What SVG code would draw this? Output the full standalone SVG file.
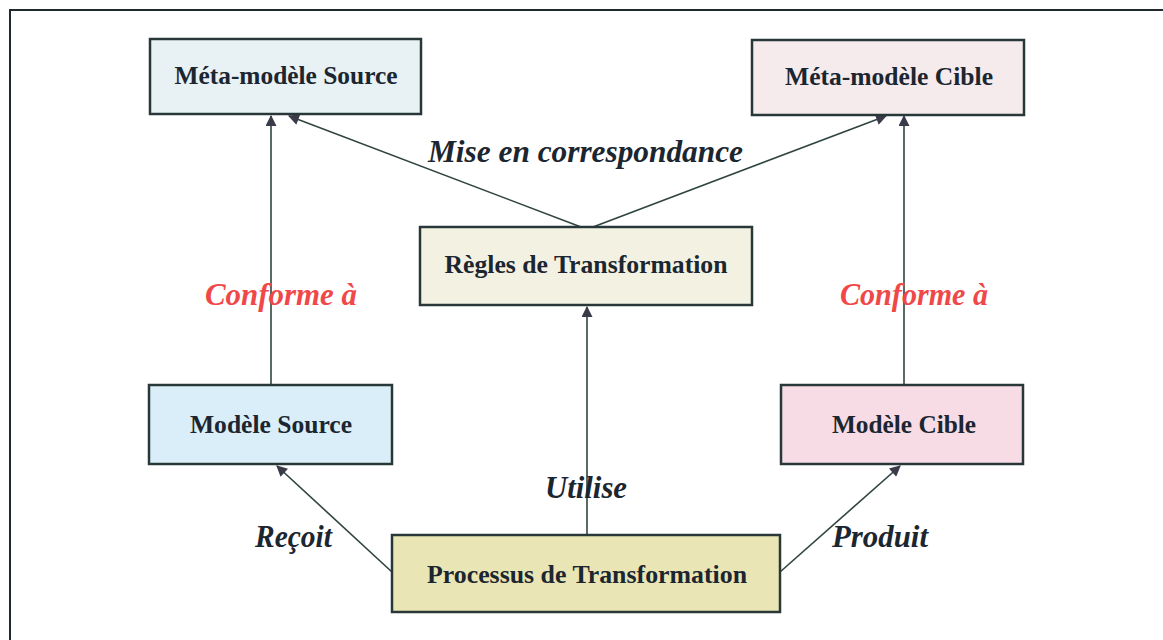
<svg xmlns="http://www.w3.org/2000/svg" width="1163" height="640" viewBox="0 0 1163 640">
  <defs>
    <marker id="arrow" viewBox="0 0 10 10" refX="9" refY="5" markerWidth="12" markerHeight="11" markerUnits="userSpaceOnUse" orient="auto">
      <path d="M0,0 L10,5 L0,10 Z" fill="#3a3a48"/>
    </marker>
    <style>
      .box { stroke: #283838; stroke-width: 2.5; }
      .name { font-family: 'Liberation Serif', Tinos, 'Times New Roman', Times, serif; font-weight: 700; font-size: 26px; fill: #1c2630; text-anchor: middle; }
      .edge { fill: none; stroke: #2f4440; stroke-width: 1.6; marker-end: url(#arrow); }
      .lbl { font-family: 'Liberation Serif', Tinos, 'Times New Roman', Times, serif; font-weight: 700; font-style: italic; font-size: 31px; fill: #1c2630; }
      .conf { fill: #f04848; }
    </style>
  </defs>

  <rect width="1163" height="640" fill="#ffffff"/>
  <!-- outer frame (top and left edges) -->
  <path d="M10,640 L10,10 L1163,10" fill="none" stroke="#1e2a30" stroke-width="2"/>

  <g id="connectors">
    <!-- conformance -->
    <line class="edge" x1="271" y1="385" x2="271" y2="116"/>
    <line class="edge" x1="904" y1="385" x2="904" y2="116"/>
    <!-- mapping between metamodels -->
    <line class="edge" x1="581" y1="227" x2="289" y2="116"/>
    <line class="edge" x1="593" y1="227" x2="886" y2="116"/>
    <!-- process relations -->
    <line class="edge" x1="587" y1="535" x2="587" y2="307"/>
    <line class="edge" x1="392" y1="572" x2="277" y2="466"/>
    <line class="edge" x1="780" y1="572" x2="900" y2="466"/>

    <text class="lbl" x="428" y="162" textLength="315" lengthAdjust="spacingAndGlyphs">Mise en  correspondance</text>
    <text class="lbl conf" x="205" y="305" textLength="152" lengthAdjust="spacingAndGlyphs">Conforme à</text>
    <text class="lbl conf" x="840" y="305" textLength="148" lengthAdjust="spacingAndGlyphs">Conforme à</text>
    <text class="lbl" x="545" y="498" textLength="82" lengthAdjust="spacingAndGlyphs">Utilise</text>
    <text class="lbl" x="255" y="547" textLength="77" lengthAdjust="spacingAndGlyphs">Reçoit</text>
    <text class="lbl" x="832" y="547" textLength="96" lengthAdjust="spacingAndGlyphs">Produit</text>
  </g>

  <g id="meta-source">
    <rect class="box" x="150" y="39" width="271" height="75" fill="#e8f1f3"/>
    <text class="name" x="286" y="84" textLength="223" lengthAdjust="spacingAndGlyphs">Méta-modèle Source</text>
  </g>
  <g id="meta-cible">
    <rect class="box" x="752" y="40" width="272" height="75" fill="#f5eaec"/>
    <text class="name" x="889" y="85" textLength="208" lengthAdjust="spacingAndGlyphs">Méta-modèle Cible</text>
  </g>
  <g id="regles">
    <rect class="box" x="420" y="227" width="332" height="78" fill="#f3f2e2"/>
    <text class="name" x="586" y="273" textLength="283" lengthAdjust="spacingAndGlyphs">Règles de Transformation</text>
  </g>
  <g id="modele-source">
    <rect class="box" x="149" y="385" width="243" height="79" fill="#d9eef8"/>
    <text class="name" x="271" y="433" textLength="162" lengthAdjust="spacingAndGlyphs">Modèle Source</text>
  </g>
  <g id="modele-cible">
    <rect class="box" x="781" y="385" width="242" height="79" fill="#f7dce5"/>
    <text class="name" x="904" y="433" textLength="144" lengthAdjust="spacingAndGlyphs">Modèle Cible</text>
  </g>
  <g id="processus">
    <rect class="box" x="392" y="535" width="388" height="77" fill="#e9e5b4"/>
    <text class="name" x="587" y="583" textLength="320" lengthAdjust="spacingAndGlyphs">Processus de Transformation</text>
  </g>
</svg>
